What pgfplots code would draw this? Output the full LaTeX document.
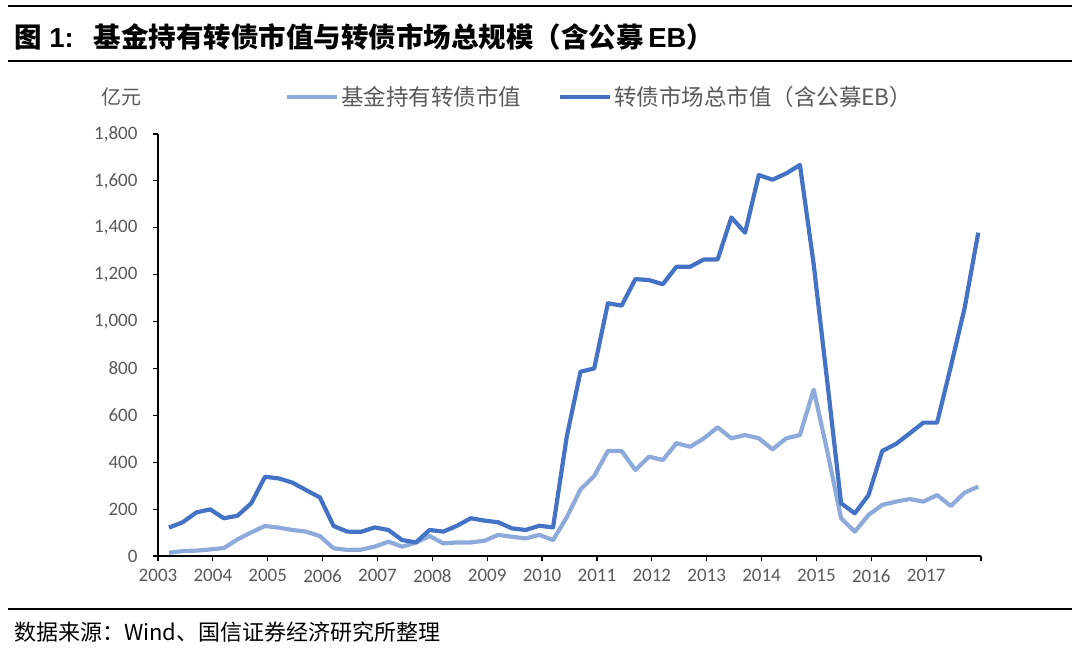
\documentclass[border=0pt]{standalone}
\usepackage{fontspec}
\usepackage{pgfplots}
\usepackage{pgfplotstable}
\pgfplotsset{compat=1.18}
\setmainfont{Carlito}
\newfontfamily\cjk{Noto Sans CJK SC}
\newfontfamily\arial{Liberation Sans}
\definecolor{darkblue}{HTML}{4472C4}
\definecolor{lightblue}{HTML}{8EAADB}
\definecolor{txtgray}{HTML}{595959}

\pgfplotstableread{
i fund total
0 14 121
1 21 144
2 23 186
3 28 199
4 34 161
5 71 172
6 101 225
7 128 338
8 121 331
9 111 313
10 104 281
11 85 250
12 33 128
13 26 104
14 27 103
15 40 122
16 61 111
17 40 68
18 57 58
19 85 111
20 54 104
21 58 129
22 58 161
23 65 151
24 90 144
25 82 118
26 75 111
27 90 129
28 68 122
29 165 509
30 284 786
31 341 800
32 448 1078
33 448 1068
34 367 1181
35 424 1177
36 409 1159
37 481 1234
38 466 1234
39 502 1265
40 549 1265
41 502 1444
42 516 1379
43 502 1625
44 455 1605
45 502 1632
46 516 1668
47 710 1245
48 445 740
49 161 225
50 104 182
51 175 260
52 218 448
53 232 478
54 243 523
55 232 569
56 260 569
57 213 808
58 270 1056
59 296 1379
}\datatable

\begin{document}
\begin{tikzpicture}
\path[use as bounding box] (0pt,0pt) rectangle (1080pt,-651pt);
% title block
\draw[line width=1.6pt] (8pt,-6pt) -- (1072pt,-6pt);
\draw[line width=1.6pt] (8pt,-61pt) -- (1072pt,-61pt);
\node[anchor=west, inner sep=0pt] at (14pt,-37pt)
  {\fontsize{27.5}{27.5}\selectfont{\cjk\bfseries 图}{\arial\bfseries\ 1:}\hspace{20pt}{\cjk\bfseries 基金持有转债市值与转债市场总规模（含公募}{\arial\bfseries\,EB}{\cjk\bfseries ）}};
% footer
\draw[line width=1.6pt] (8pt,-609pt) -- (1072pt,-609pt);
\node[anchor=west, inner sep=0pt] at (14pt,-632pt)
  {\cjk\fontsize{22}{22}\selectfont 数据来源：Wind、国信证券经济研究所整理};
% unit
\node[anchor=center, inner sep=0pt, text=txtgray] at (121pt,-97pt)
  {\cjk\fontsize{20}{20}\selectfont 亿元};

\begin{axis}[
  at={(158pt,-556pt)}, anchor=south west,
  width=823pt, height=422pt, scale only axis,
  xmin=-0.8, xmax=59.2, ymin=0, ymax=1800,
  axis lines=left, axis line style={-, black, line width=1.2pt},
  xtick={-0.8,3.2,7.2,11.2,15.2,19.2,23.2,27.2,31.2,35.2,39.2,43.2,47.2,51.2,55.2,59.2},
  xticklabels={2003,2004,2005,2006,2007,2008,2009,2010,2011,2012,2013,2014,2015,2016,2017,{}},
  ytick={0,200,...,1800},
  tick align=outside, major tick length=5pt,
  tick style={black, line width=1.2pt},
  /pgf/number format/assume math mode=true,
  /pgf/number format/1000 sep={,},
  ticklabel style={font=\fontsize{19}{19}\selectfont, text=txtgray},
  xticklabel style={yshift=-5pt},
  yticklabel style={xshift=-12pt},
  legend columns=2,
  legend image code/.code={\draw[#1, line width=4pt] (0pt,0pt) -- (50pt,0pt);},
  legend style={at={(0.1543,1.0877)}, anchor=west, draw=none, fill=none,
    inner sep=0pt, font=\cjk\fontsize{22.5}{22.5}\selectfont, text=txtgray,
    /tikz/every even column/.append style={column sep=35pt}},
  legend cell align=left,
]
\addplot[lightblue, line width=4.2pt, line join=round] table[x=i, y=fund] {\datatable};
\addlegendentry{基金持有转债市值}
\addplot[darkblue, line width=4.2pt, line join=round] table[x=i, y=total] {\datatable};
\addlegendentry{转债市场总市值（含公募EB）}
\end{axis}
\end{tikzpicture}
\end{document}
